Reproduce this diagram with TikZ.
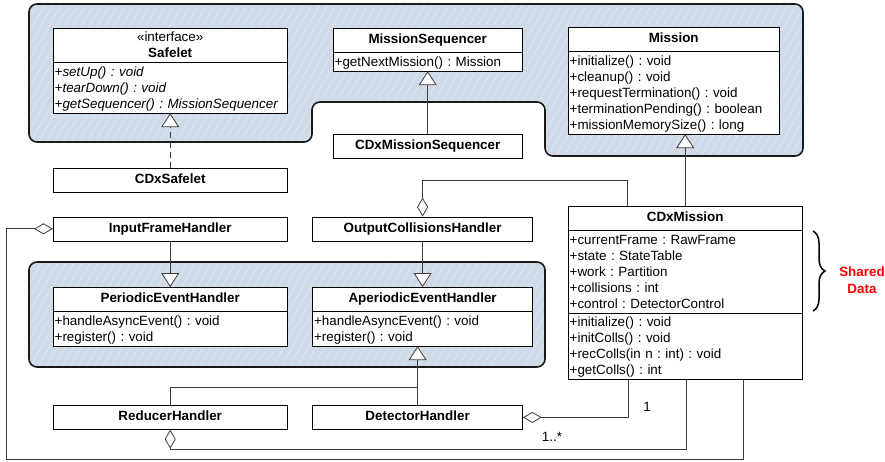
\documentclass[tikz,border=0pt]{standalone}
\usepackage{fontspec}
\setmainfont{Liberation Sans}
\usepackage{tikz}
\usetikzlibrary{arrows.meta,positioning,shapes.multipart,patterns.meta,decorations.pathreplacing}
\definecolor{groupblue}{RGB}{206,218,231}
\definecolor{linkgray}{RGB}{60,60,60}
\newcommand{\umlname}[1]{\rule[-7.5pt]{0pt}{22pt}\textbf{#1}}
\newcommand{\umlhead}[1]{\hbox to\hsize{\hfil#1\hfil}}
\newcommand{\umlrow}[1]{\rule[-3.7pt]{0pt}{16pt}#1}
\setlength{\parindent}{0pt}
\frenchspacing

\begin{document}
\begin{tikzpicture}[x=1pt,y=-1pt,
font=\fontsize{13.4}{16}\selectfont,
class/.style={draw,fill=white,rectangle split,rectangle split parts=2,inner xsep=1.5pt,inner ysep=1pt,align=left},
single/.style={draw,fill=white,minimum height=24pt,inner sep=0pt},
group/.style={draw=black!90,line width=1.6pt,rounded corners=8pt,preaction={fill=groupblue},
  pattern={Lines[angle=60,distance=7pt,line width=0.5pt]},pattern color=white!45!groupblue},
gen/.style={-{Triangle[length=14pt,width=18pt,fill=white]},draw=linkgray,line width=0.8pt},
real/.style={gen,dash pattern=on 6pt off 4pt},
aggr/.style={-{Diamond[length=19pt,width=11pt,fill=white]},draw=linkgray,line width=0.8pt}]
\useasboundingbox (0,0) rectangle (885,461);
\draw[group] (29,4) -- (803,4) -- (803,156) -- (545,156) -- (545,102) -- (312,102) -- (312,142) -- (29,142) -- cycle;
\draw[group] (29,262) rectangle (545,367);

\node[class,text width=231pt,anchor=north west] (safelet) at (53,28) {\umlhead{\umlrow{«interface»}}\par\umlhead{\umlrow{\textbf{Safelet}}}
  \nodepart{two}\itshape\umlrow{+setUp() : void}\\\umlrow{+tearDown() : void}\\\umlrow{+getSequencer() : MissionSequencer}};
\node[single,minimum width=234pt,below=55pt of safelet] (cdxsafelet) {\umlname{CDxSafelet}};
\node[single,minimum width=234pt,below=24pt of cdxsafelet] (input) {\umlname{InputFrameHandler}};
\node[class,text width=231pt,below=46pt of input] (periodic) {\umlhead{\umlname{PeriodicEventHandler}}
  \nodepart{two}\umlrow{+handleAsyncEvent() : void}\\\umlrow{+register() : void}};
\node[single,minimum width=234pt,below=59pt of periodic] (reducer) {\umlname{ReducerHandler}};

\node[class,text width=186pt,anchor=north west] (seq) at (333,28) {\umlhead{\umlname{MissionSequencer}}
  \nodepart{two}\umlrow{+getNextMission() : Mission}};
\node[single,minimum width=189pt,below=63pt of seq] (cdxseq) {\umlname{CDxMissionSequencer}};
\node[single,minimum width=220pt,right=25pt of input] (output) {\umlname{OutputCollisionsHandler}};
\node[class,text width=217pt,right=25pt of periodic] (aperiodic) {\umlhead{\umlname{AperiodicEventHandler}}
  \nodepart{two}\umlrow{+handleAsyncEvent() : void}\\\umlrow{+register() : void}};
\node[single,minimum width=210pt,right=25pt of reducer] (detector) {\umlname{DetectorHandler}};

\node[class,text width=208pt,anchor=north west] (mission) at (568,27) {\umlhead{\umlname{Mission}}
  \nodepart{two}\umlrow{+initialize() : void}\\\umlrow{+cleanup() : void}\\\umlrow{+requestTermination() : void}\\\umlrow{+terminationPending() : boolean}\\\umlrow{+missionMemorySize() : long}};
\node[class,rectangle split parts=3,text width=231pt,anchor=north west] (cdxmission) at (568,206) {\umlhead{\umlname{CDxMission}}
  \nodepart{two}\umlrow{+currentFrame : RawFrame}\\\umlrow{+state : StateTable}\\\umlrow{+work : Partition}\\\umlrow{+collisions : int}\\\umlrow{+control : DetectorControl}
  \nodepart{three}\umlrow{+initialize() : void}\\\umlrow{+initColls() : void}\\\umlrow{+recColls(in n : int) : void}\\\umlrow{+getColls() : int}};

\draw[decorate,decoration={brace,amplitude=12pt},line width=1.5pt] (813,231) -- (813,311);
\node[text=red,font=\fontsize{13.4}{17}\selectfont\bfseries,align=center] (shared) at (862,280) {Shared\\Data};

\draw[real] (cdxsafelet) -- (safelet);
\draw[gen] (cdxseq) -- (seq);
\draw[gen] (cdxmission) -- (cdxmission |- mission.south);
\draw[gen] (input) -- (periodic);
\draw[gen] (output) -- (aperiodic);
\coordinate (genjoin) at (417,387);
\draw[gen] (detector) -- (detector |- aperiodic.south);
\draw[draw=linkgray,line width=0.8pt] (reducer) |- (genjoin);

\draw[aggr] (cdxmission.north -| 627,0) -- (627,180) -| (output);
\draw[aggr] (cdxmission.south -| 743,0) |- (6,459) |- (input);
\draw[aggr] (cdxmission.south -| 686,0) -- (686,449) -| (reducer);
\draw[aggr] (cdxmission.south -| 628,0) |- (detector);
\node (one) at (647,407) {1};
\node (many) at (552,437) {1..*};
\end{tikzpicture}
\end{document}
